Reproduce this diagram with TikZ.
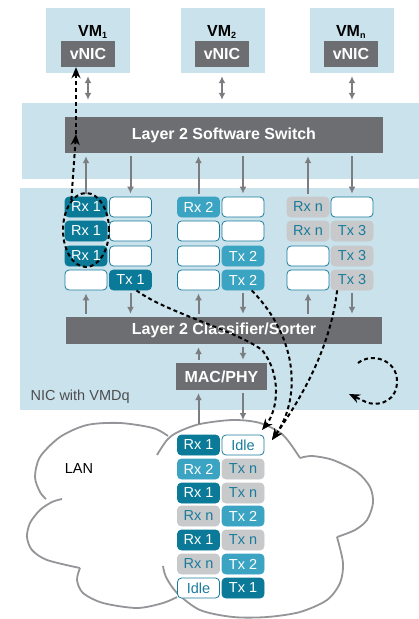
\documentclass[tikz,border=0pt]{standalone}
\usepackage{fontspec}
\setmainfont{Liberation Sans}
\usetikzlibrary{arrows.meta,shapes.geometric}

\definecolor{paleblue}{HTML}{C9E2EB}
\definecolor{bargray}{HTML}{6D6E71}
\definecolor{linegray}{HTML}{7C7D80}
\definecolor{cloudgray}{HTML}{939598}
\definecolor{labelgray}{HTML}{4D4D4F}
\definecolor{qdark}{HTML}{0B7A98}
\definecolor{qmid}{HTML}{3CA4C3}
\definecolor{qgray}{HTML}{C8C9CB}
\definecolor{qtext}{HTML}{1A7C9C}

\newcommand\vmsub[1]{\textsubscript{\fontsize{9}{9}\selectfont #1}}

\tikzset{
  region/.style={fill=paleblue, inner sep=0pt},
  bar/.style={fill=bargray, text=white, font=\fontsize{16}{18}\selectfont\bfseries, inner sep=0pt},
  vmtitle/.style={anchor=base, font=\fontsize{16}{18}\selectfont\bfseries, text=black},
  queue/.style={rounded corners=4pt, minimum width=42pt, minimum height=20pt, inner sep=0pt,
    font=\fontsize{14.5}{16}\selectfont, line width=0.8pt},
  qd/.style={queue, fill=qdark, draw=qdark, text=white},
  qm/.style={queue, fill=qmid, draw=qmid, text=white},
  qg/.style={queue, fill=qgray, draw=qgray, text=qtext},
  qe/.style={queue, fill=white, draw=qtext, text=qtext},
  flow/.style={draw=linegray, line width=2pt, -{Latex[length=7pt,width=7pt]}, shorten <=3pt, shorten >=3pt},
  both/.style={flow, {Latex[length=7pt,width=7pt]}-{Latex[length=7pt,width=7pt]}},
  trace/.style={black, line width=2pt, dash pattern=on 4pt off 3pt, -{Stealth[length=11pt,width=9pt]}},
  loopmark/.style={draw=black, line width=2pt, dash pattern=on 4pt off 3pt, ellipse,
    minimum width=46pt, minimum height=74pt, inner sep=0pt},
  cloudline/.style={draw=cloudgray, line width=1.8pt},
}

\begin{document}
\begin{tikzpicture}[x=1pt, y=-1pt]
  \useasboundingbox (0,0) rectangle (419,619);

  \node[region, minimum width=84pt, minimum height=65pt] (vm1) at (88,40.5) {};
  \node[region, minimum width=84pt, minimum height=65pt] (vm2) at (223,40.5) {};
  \node[region, minimum width=84pt, minimum height=65pt] (vm3) at (352,40.5) {};
  \node[vmtitle] (vm1t) at (93,36) {VM\vmsub{1}};
  \node[vmtitle] (vm2t) at (222,36) {VM\vmsub{2}};
  \node[vmtitle] (vm3t) at (351,36) {VM\vmsub{n}};
  \node[bar, minimum width=54pt, minimum height=26pt] (vnic1) at (88,54) {vNIC};
  \node[bar, minimum width=54pt, minimum height=26pt] (vnic2) at (222,54) {vNIC};
  \node[bar, minimum width=54pt, minimum height=26pt] (vnic3) at (351,54) {vNIC};

  \node[region, minimum width=397pt, minimum height=76pt] (swzone) at (220.5,141) {};
  \node[bar, minimum width=318pt, minimum height=36pt] (sw) at (224,135) {Layer 2 Software Switch};

  \node[region, minimum width=399pt, minimum height=222pt] (nic) at (219.5,299) {};
  \node[anchor=west, font=\fontsize{14.5}{16}\selectfont, text=labelgray] (nict) at (27,397) {NIC with VMDq};
  \node[bar, minimum width=316pt, minimum height=27pt] (cls) at (224,330.5) {Layer 2 Classifier/Sorter};
  \node[bar, minimum width=91pt, minimum height=27pt] (mac) at (221.5,376.5) {MAC/PHY};

  \node[qd] (q11) at (86,207) {Rx 1};
  \node[qd] (q12) at (86,231) {Rx 1};
  \node[qd] (q13) at (86,256) {Rx 1};
  \node[qe] (q14) at (86,280) {};
  \node[qe] (q21) at (130.5,207) {};
  \node[qe] (q22) at (130.5,231) {};
  \node[qe] (q23) at (130.5,256) {};
  \node[qd] (q24) at (130.5,280) {Tx 1};
  \node[qm] (q31) at (198.5,207) {Rx 2};
  \node[qe] (q32) at (198.5,231) {};
  \node[qe] (q33) at (198.5,256) {};
  \node[qe] (q34) at (198.5,280) {};
  \node[qe] (q41) at (243,207) {};
  \node[qe] (q42) at (243,231) {};
  \node[qm] (q43) at (243,256) {Tx 2};
  \node[qm] (q44) at (243,280) {Tx 2};
  \node[qg] (q51) at (308,207) {Rx n};
  \node[qg] (q52) at (308,231) {Rx n};
  \node[qe] (q53) at (308,256) {};
  \node[qe] (q54) at (308,280) {};
  \node[qe] (q61) at (352,207) {};
  \node[qg] (q62) at (352,231) {Tx 3};
  \node[qg] (q63) at (352,256) {Tx 3};
  \node[qg] (q64) at (352,280) {Tx 3};

  \draw[cloudline] plot[smooth] coordinates {(157,455) (167,440) (178,432) (200,424) (233,420) (260,423) (283,435) (300,458)};
  \draw[cloudline] plot[smooth] coordinates {(300,458) (312,456) (333,460) (357,472) (370,487) (373,503) (367,520) (355,530) (337,537)};
  \draw[cloudline] plot[smooth] coordinates {(337,537) (343,563) (340,583) (327,600) (300,612) (267,617) (233,617) (200,610) (177,593) (166,577) (163,566)};
  \draw[cloudline] plot[smooth] coordinates {(177,597) (163,603) (137,608) (103,603) (83,593) (77,580) (80,568)};
  \draw[cloudline] plot[smooth] coordinates {(80,568) (47,560) (32,550) (27,537) (30,523) (40,510) (52,502) (62,499)};
  \draw[cloudline] plot[smooth] coordinates {(168,436) (153,428) (120,423) (87,425) (60,437) (40,457) (35,477) (40,492) (46,499)};
  \node[font=\fontsize{14.5}{16}\selectfont] (lan) at (79,469) {LAN};

  \node[qd] (l11) at (198.5,445) {Rx 1};
  \node[qm] (l12) at (198.5,469) {Rx 2};
  \node[qd] (l13) at (198.5,493) {Rx 1};
  \node[qg] (l14) at (198.5,516) {Rx n};
  \node[qd] (l15) at (198.5,540) {Rx 1};
  \node[qg] (l16) at (198.5,564) {Rx n};
  \node[qe] (l17) at (198.5,588) {Idle};
  \node[qe] (l21) at (243,445) {Idle};
  \node[qg] (l22) at (243,469) {Tx n};
  \node[qg] (l23) at (243,493) {Tx n};
  \node[qm] (l24) at (243,516) {Tx 2};
  \node[qg] (l25) at (243,540) {Tx n};
  \node[qm] (l26) at (243,564) {Tx 2};
  \node[qd] (l27) at (243,588) {Tx 1};

  \draw[both] (vm1.south) -- (vm1.south |- swzone.north);
  \draw[both] (vnic2.south |- vm2.south) -- (vnic2.south |- swzone.north);
  \draw[both] (vm3.south) -- (vm3.south |- swzone.north);
  \foreach \c in {1,3,5} {
    \draw[flow] (q\c1.north) -- (q\c1.north |- sw.south);
    \draw[flow] (cls.north -| q\c4.south) -- (q\c4.south);
  }
  \foreach \c in {2,4,6} {
    \draw[flow] (sw.south -| q\c1.north) -- (q\c1.north);
    \draw[flow] (q\c4.south) -- (q\c4.south |- cls.north);
  }
  \draw[flow] (mac.north -| q31.south) -- (cls.south -| q31.south);
  \draw[flow] (cls.south -| q41.south) -- (mac.north -| q41.south);

  \coordinate (lanin) at (198.5,424);
  \coordinate (lanout) at (243,420);
  \draw[flow, shorten <=0pt] (lanin) -- (lanin |- mac.south);
  \draw[flow, shorten >=0pt] (mac.south -| lanout) -- (lanout);

  \node[loopmark] (rxloop) at (86,230) {};
  \coordinate (up) at (76,134);
  \draw[trace] (rxloop.116) -- (up);
  \draw[trace] (up) -- (up |- vnic1.south);

  \coordinate (hitA) at (262,430);
  \coordinate (hitB) at (272,440);
  \draw[trace] (q24.-60) .. controls (165,312) and (235,330) .. (262,350) .. controls (282,375) and (278,410) .. (hitA);
  \draw[trace] (q44.-50) .. controls (300,340) and (300,400) .. (hitB);
  \draw[trace] (q64.215) .. controls (330,350) and (300,400) .. (hitB);

  \coordinate (spin) at (358,363);
  \draw[trace] (spin) .. controls (372,352) and (397,360) .. (397,381) .. controls (397,400) and (382,406) .. (368,403) -- (349,394);
\end{tikzpicture}
\end{document}
